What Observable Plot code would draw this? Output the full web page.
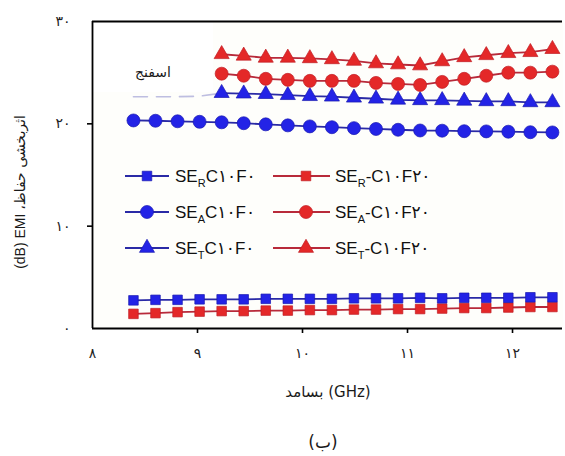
<!DOCTYPE html>
<html>
<head>
<meta charset="utf-8">
<script src="https://cdn.jsdelivr.net/npm/d3@7"></script>
<script src="https://cdn.jsdelivr.net/npm/@observablehq/plot@0.6"></script>
<style>
  html, body { margin: 0; padding: 0; background: #ffffff; }
  #wrap { position: relative; width: 565px; height: 456px; overflow: hidden; font-family: "DejaVu Sans", sans-serif; color: #1a1a1a; }
  #plotbg { position: absolute; left: 92px; top: 21px; width: 471px; height: 307px; background: #fefefb; }
  #whiteblock { position: absolute; left: 93px; top: 22px; width: 120px; height: 70px; background: #ffffff; }
  #chart { position: absolute; left: 0; top: 0; }
  .txt { position: absolute; white-space: nowrap; }
  .leg { position: absolute; display: flex; align-items: center; font-family: "Liberation Sans", "DejaVu Sans", sans-serif; font-size: 17px; color: #111; white-space: nowrap; }
  .leg sub { font-size: 11px; vertical-align: -5px; line-height: 0; }
</style>
</head>
<body>
<div id="wrap">
  <div id="plotbg"></div>
  <div id="whiteblock"></div>
  <div id="chart"></div>
</div>
<script>
// ---- data ----
const freq = [8.39, 8.60, 8.81, 9.02, 9.23, 9.44, 9.65, 9.86, 10.07, 10.28, 10.49, 10.70, 10.91, 11.12, 11.33, 11.54, 11.75, 11.96, 12.17, 12.38];
// blue (C10F0)
const seR_C10F0 = [2.75, 2.8, 2.8, 2.85, 2.85, 2.85, 2.9, 2.9, 2.9, 2.9, 2.95, 2.95, 2.95, 3.0, 2.95, 3.0, 3.0, 3.0, 3.05, 3.05];
const seA_C10F0 = [20.33, 20.3, 20.25, 20.2, 20.15, 20.06, 19.95, 19.85, 19.75, 19.67, 19.58, 19.5, 19.42, 19.35, 19.33, 19.28, 19.26, 19.23, 19.18, 19.16];
const seT_C10F0 = [22.65, 22.65, 22.65, 22.7, 23.0, 22.95, 22.9, 22.8, 22.7, 22.65, 22.55, 22.45, 22.35, 22.3, 22.3, 22.25, 22.2, 22.2, 22.1, 22.1];
const seT_C10F0_hiddenUntil = 4; // first points are covered in the original, only a faint trace remains
// red (C10F20)
const seR_C10F20 = [1.43, 1.5, 1.6, 1.65, 1.7, 1.7, 1.75, 1.75, 1.8, 1.8, 1.85, 1.85, 1.9, 1.9, 1.95, 2.0, 2.0, 2.05, 2.1, 2.1];
const seA_C10F20 = [null, null, null, null, 24.9, 24.7, 24.4, 24.3, 24.2, 24.2, 24.2, 24.0, 23.9, 23.8, 24.1, 24.4, 24.7, 25.0, 25.0, 25.1];
const seT_C10F20 = [null, null, null, null, 26.8, 26.65, 26.45, 26.45, 26.4, 26.3, 26.15, 25.9, 25.8, 25.7, 26.1, 26.5, 26.7, 26.9, 27.0, 27.3];

const xTicks = [8, 9, 10, 11, 12];
const yTicks = [0, 10, 20, 30];
const legendLabels = [
  ["SE", "R", "C۱۰F۰"], ["SE", "R", "-C۱۰F۲۰"],
  ["SE", "A", "C۱۰F۰"], ["SE", "A", "-C۱۰F۲۰"],
  ["SE", "T", "C۱۰F۰"], ["SE", "T", "-C۱۰F۲۰"]
];
const xTitle = "بسامد (GHz)";
const yTitleLatin = "(dB) EMI ";
const yTitlePersian = "اثربخشی حفاظ،";
const noteText = "اسفنج";
const captionText = "(ب)";

// ---- styles ----
const blueFill = "#2323e6", blueLine = "#2a2aa6", blueEdge = "#1a1ab0";
const redFill = "#e42828", redLine = "#b82a3a", redEdge = "#c01c24";

const fa = d => String(d).replace(/\d/g, c => "۰۱۲۳۴۵۶۷۸۹"[+c]);

function rows(vals) { return freq.map((f, i) => ({f, v: vals[i], i})); }
const series = [
  {data: rows(seR_C10F20), symbol: "square", r: 5.4, fill: redFill, edge: redEdge, line: redLine},
  {data: rows(seR_C10F0), symbol: "square", r: 5.4, fill: blueFill, edge: blueEdge, line: blueLine},
  {data: rows(seA_C10F0), symbol: "circle", r: 6.5, fill: blueFill, edge: blueEdge, line: blueLine},
  {data: rows(seT_C10F0).filter(d => d.i >= seT_C10F0_hiddenUntil), symbol: "triangle", r: 5.6, fill: blueFill, edge: blueEdge, line: blueLine},
  {data: rows(seA_C10F20), symbol: "circle", r: 6.5, fill: redFill, edge: redEdge, line: redLine},
  {data: rows(seT_C10F20), symbol: "triangle", r: 5.6, fill: redFill, edge: redEdge, line: redLine}
];

const marks = [];
// faint trace of the covered part of the blue triangle series
marks.push(Plot.line(rows(seT_C10F0).filter(d => d.i <= seT_C10F0_hiddenUntil), {x: "f", y: "v", stroke: blueLine, strokeWidth: 1.6, strokeOpacity: 0.3, strokeDasharray: "14,9"}));
for (const s of series) {
  marks.push(Plot.line(s.data, {x: "f", y: "v", stroke: s.line, strokeWidth: 1.8}));
  marks.push(Plot.dot(s.data, {x: "f", y: "v", symbol: s.symbol, r: s.r, fill: s.fill, stroke: s.edge, strokeWidth: 0.7}));
}
// frame (left, bottom, top)
marks.push(Plot.ruleX([xTicks[0]], {stroke: "#000", strokeWidth: 1.8}));
marks.push(Plot.ruleY([yTicks[0], yTicks[yTicks.length - 1]], {stroke: "#000", strokeWidth: 1.8}));
// axes
marks.push(Plot.axisX({ticks: xTicks, tickFormat: fa, tickSize: 0, tickPadding: 20, label: null, fontSize: 14, fontFamily: "DejaVu Sans", fill: "#222"}));
marks.push(Plot.axisX({ticks: xTicks.slice(1), tickFormat: () => "", tickSize: 5, label: null, stroke: "#000", strokeWidth: 1.6}));
marks.push(Plot.axisY({ticks: yTicks, tickFormat: fa, tickSize: 0, tickPadding: 22, label: null, fontSize: 14, fontFamily: "DejaVu Sans", fill: "#222"}));
marks.push(Plot.axisY({ticks: yTicks.slice(1, -1), tickFormat: () => "", tickSize: 5, label: null, stroke: "#000", strokeWidth: 1.6}));

const chart = Plot.plot({
  width: 565,
  height: 380,
  marginLeft: 92,
  marginRight: 3,
  marginTop: 21,
  marginBottom: 52,
  style: {background: "transparent", overflow: "visible"},
  x: {domain: [8, 12.476]},
  y: {domain: [0, 30]},
  marks
});
document.getElementById("chart").appendChild(chart);

// ---- overlay texts ----
const wrap = document.getElementById("wrap");
function addText(html, css) {
  const d = document.createElement("div");
  d.className = "txt";
  d.innerHTML = html;
  Object.assign(d.style, css);
  wrap.appendChild(d);
  return d;
}
addText(noteText, {left: "153px", top: "72px", transform: "translate(-50%,-50%)", fontSize: "14px", direction: "rtl"});
addText(`<span dir="ltr">${xTitle}</span>`, {left: "328px", top: "392px", transform: "translate(-50%,-50%)", fontSize: "15px"});
addText(captionText, {left: "323px", top: "442px", transform: "translate(-50%,-50%)", fontSize: "17px"});
addText(`<span style="font-family:'Liberation Sans','DejaVu Sans'">${yTitleLatin}</span><bdi dir="rtl">${yTitlePersian}</bdi>`,
  {left: "20px", top: "192px", transform: "translate(-50%,-50%) rotate(-90deg)", fontSize: "14px", direction: "ltr"});

// ---- legend ----
const legSeries = [
  {symbol: "square", fill: blueFill, edge: blueEdge, line: blueLine},
  {symbol: "square", fill: redFill, edge: redEdge, line: redLine},
  {symbol: "circle", fill: blueFill, edge: blueEdge, line: blueLine},
  {symbol: "circle", fill: redFill, edge: redEdge, line: redLine},
  {symbol: "triangle", fill: blueFill, edge: blueEdge, line: blueLine},
  {symbol: "triangle", fill: redFill, edge: redEdge, line: redLine}
];
const rowY = [176, 212, 248];
const col = [{left: 125, w: 44, mx: 22, gap: 6}, {left: 273, w: 57, mx: 33, gap: 5}];
legSeries.forEach((s, k) => {
  const c = col[k % 2], y = rowY[Math.floor(k / 2)];
  const size = s.symbol === "circle" ? Math.PI * 6.5 * 6.5 : s.symbol === "triangle" ? Math.PI * 5.6 * 5.6 : Math.PI * 5.4 * 5.4;
  const sym = d3.symbol(s.symbol === "circle" ? d3.symbolCircle : s.symbol === "triangle" ? d3.symbolTriangle : d3.symbolSquare, size)();
  const [a, b, t] = legendLabels[k];
  const d = document.createElement("div");
  d.className = "leg";
  d.style.left = c.left + "px";
  d.style.top = (y - 10) + "px";
  d.style.height = "20px";
  d.innerHTML = `<svg width="${c.w}" height="20" style="overflow:visible"><line x1="0" x2="${c.w}" y1="10" y2="10" stroke="${s.line}" stroke-width="2.2"/><path d="${sym}" transform="translate(${c.mx},10)" fill="${s.fill}" stroke="${s.edge}" stroke-width="0.7"/></svg><span style="margin-left:${c.gap}px">${a}<sub>${b}</sub>${t}</span>`;
  wrap.appendChild(d);
});
</script>
</body>
</html>
